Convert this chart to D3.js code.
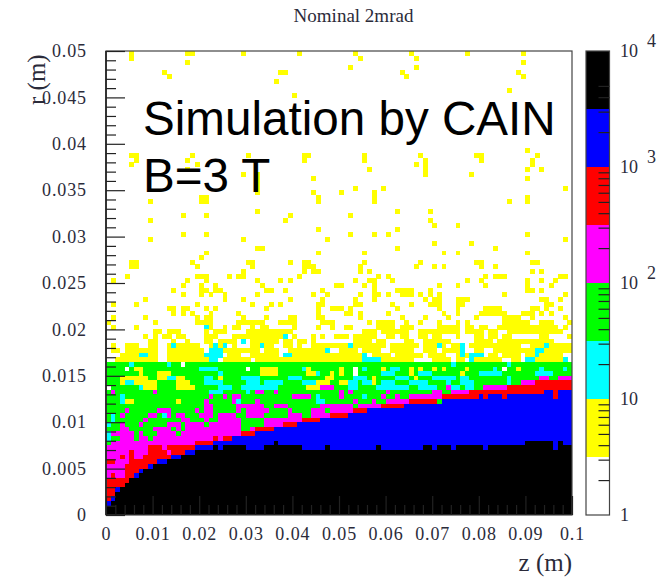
<!DOCTYPE html>
<html><head><meta charset="utf-8">
<script src="https://cdnjs.cloudflare.com/ajax/libs/d3/7.8.5/d3.min.js"></script>
<style>html,body{margin:0;padding:0;background:#fff}svg{display:block}
.ax text{font-family:"Liberation Serif",serif;font-size:18px;fill:#2b2b3a;letter-spacing:.9px}
.ax path{display:none}.ax line{stroke:#222;stroke-width:1.2px}
text{font-family:"Liberation Serif",serif;fill:#2b2b3a}</style></head><body>
<svg id="c" width="669" height="577"></svg>
<script>
const title = "Nominal 2mrad";
const annotations = ["Simulation by CAIN", "B=3 T"];
const zMajor = [0,0.01,0.02,0.03,0.04,0.05,0.06,0.07,0.08,0.09,0.1];
const zLabels = ["0","0.01","0.02","0.03","0.04","0.05","0.06","0.07","0.08","0.09","0.1"];
const rMajor = [0,0.005,0.01,0.015,0.02,0.025,0.03,0.035,0.04,0.045,0.05];
const rLabels = ["0","0.005","0.01","0.015","0.02","0.025","0.03","0.035","0.04","0.045","0.05"];
const contourLevels = [3.16,10,31.6,100,316,1000,3160,10000];
const contourColors = ["#ffffff","#ffff00","#00ffff","#00ff00","#ff00ff","#ff0000","#0000ff","#000000"];
const barTicks = [2,3,4,5,6,7,8,9,20,30,40,50,60,70,80,90,200,300,400,500,600,700,800,900,2000,3000,4000,5000];
const barLabels = [[1,"1",""],[10,"10",""],[100,"10","2"],[1000,"10","3"],[10000,"10","4"]];
// typical counts per colour band
const bandValue = {W:1.5,Y:5,C:18,G:56,M:178,R:562,B:1778,K:5623};

// column heights (number of r bins from the axis)
const blackHeight = [2,3,5,6,7,8,8,9,10,10,11,11,11,12,12,12,13,13,13,14,14,14,14,15,14,15,15,15,15,15,14,14,14,14,15,15,16,15,15,15,15,15,14,14,14,14,14,15,14,14,
14,14,14,14,14,14,14,14,15,14,14,14,14,14,14,14,14,14,15,15,14,15,15,15,14,15,15,15,15,15,15,14,15,15,15,15,15,15,15,15,16,16,16,16,16,16,14,16,15,15];
const blueHeight = [3,4,6,6,7,8,9,10,10,11,11,12,12,12,13,13,13,14,14,15,15,15,15,16,16,16,16,17,17,17,17,17,18,18,18,18,19,19,19,19,19,20,20,20,20,20,21,21,21,21,
21,21,22,22,22,22,23,23,23,23,23,23,23,23,24,24,24,24,24,24,24,24,25,25,25,25,25,25,25,25,26,25,26,26,26,25,26,26,26,26,26,26,26,26,27,27,25,27,27,27];

// sparse cells by row from the top of the plot: row -> columns
const yellowCells = {0:"5,17-18,29,41,53,65,77,89",1:"5,54,66",2:"17,89",3:"52,66",4:"12,37-38,63,88",5:"13,64,89",6:"36",8:"86",9:"40",
21:"90",22:"5-6,18,30,42-43,55,67,79-80,92",23:"6,17,42,55,68,80,91",24:"5,19,66,68,91",25:"17,56,68,90,93",26:"29,32,68,78",27:"32,44,90",28:"32",29:"32,53,59,98",30:"32,44,50,57",31:"20-21,45,57,90",
32:"9,20-21,45,57,86,90",34:"32,62,69",35:"16,21,39,52",36:"9,38,69",37:"70,75",38:"45,62",39:"16,21,52,57,60,90",40:"9,29,47,98",41:"70,78",42:"32-33,62,83",43:"21,45,55,72,75,90",44:"20",
45:"5-6,18,30-31,39,42-43,55,67,79-80,91-92",46:"5-6,19,31,42-44,54,66,70,72,80,83",47:"29,42,44-45,54,56,91,93",48:"4,19-21,26,28-29,41,58,60,81,83-85,97-98",
49:"1,17,21,32,37,39,53,56-57,61,77,80,90,93,96",50:"16,20,23,33,49,50,55,57,71,75,81,90,95",51:"14,20-21,23-24,34-35,38,46,57,62-65,69,90-91,93",
52:"16,20,22,25,32,44,47,54,57-58,60,63-65,67,69,71,85,98",53:"8,25,29,39,46,53,57,68,70-71,75-77,93-94,97",54:"1,6,19,31,35,37,45-46,53-54,61,65,69-71,75-76,94-95",
55:"13-14,16-17,21,23,34,45,48-49,50,52,62,71,75,81-84,91-92,94,97",56:"14,16,18,22,28,45,51-52,54,60,72,75,80-85,89-91,93,95",
57:"1,8,19,21-22,29,34,39-40,45-46,54,63,68,73,79,85-88,91,98",58:"0,10,19-22,28-33,37-40,46-48,56,58-61,64,67,71,75,77,85-90,93-95,99",
59:"1,6,22,25,27-28,31,33-34,40,45,48,51-52,58-61,63-65,71-75,77-78,80-81,84-96,98",60:"10-11,13-15,21,23-25,30-39,55-57,59-64,67-75,77-80,82-83,86-97",
61:"8,10,12-13,15-16,21-23,27-37,40,44,46,49,50-51,53-57,60-61,63-64,67-68,70-71,75,79-80,82-83,85-86,93-94,99",
62:"9-10,14,17,21-22,24-27,31-36,38-39,41-42,44,53-56,58-59,64-65,68-73,79-82,84-95",
63:"1,4-6,9-10,13,15-19,22,24-25,27,31-35,38-39,41,44-49,50-59,61-66,68-72,74-75,78-88,91-99",
64:"1-2,4-10,13-20,24-32,34-36,39-47,50-53,55-58,61-65,68-70,72-75,79-80,83-92,94-99",
65:"3-10,13-22,26-28,31-36,40-50,51-54,57-60,62-67,69-72,75,77-79,82-83,85-88,90-91,93-97",
66:"2-10,13-23,25-30,32-49,50-54,59-65,70-73,75-76,79-84,87-88,90-98",
68:"6-7,33-36,42-43,50,59,65,67,70,72,77,88",69:"7,11-13,33-36,43-44,48,50,65,76",70:"3-8,11-12,15-16,24,47-48,57,66",71:"3,6-10,15-17,45-47,50-51,57",72:"0,8-10,15-18,43-45",75:"4-5,15"};
const cyanCells = {59:"21",61:"38",62:"29",63:"14,23,25,33,52,71,76,94",64:"22-24,47,76,92-93",65:"7-8,21-24,38-39,55,76,78-80,92",66:"22-23,55-58,78,90-91,98",
67:"5,13,74,86",68:"20-23,42,55,61-62,83,93,98",69:"24,45,59-61,67-69,80-84,92-95",70:"13-14,21-22,29-32,39-41,53-55,62-64,70-74,76-77,86",71:"4-5,21-24,30-32,34-37,42-44,52-53,55-56,59-61,65-68,73,76-78,86",
72:"7,24-26,29-33,34-36,52-53,58-64,67-70,74-75,77-78",73:"22-24,30",74:"3,45,55",75:"3,28,45-46",78:"1,12",79:"1",80:"0",82:"0",83:"0"};
const magentaCells = {70:"93-94,97-99",71:"89-91",72:"46-48,73,81-85",73:"1,10,32-33,36,50,52,60,70-71,74-77",74:"22,25,27-28,40-43,50,59,62,65-71",75:"21,27,32,53,57,60-64",
76:"21-22,28-33,36-38,46-52,54-58",77:"4,11-13,19,21-22,28,30-34,39,44-46,48-52",78:"3,9-10,13,15-16,20-22,24-27,30-33,39-41,44-47",79:"8,16-17,21,24-28,34-41",
80:"3,7,13-15,17-20,22-28,34-37",81:"3-4,10-13,15,17-28,31",82:"1-5,7,11-14,16-28",83:"3-5,7-8,10-22,24",84:"1-18",85:"0-8,12",86:"0-4,6-8,13",87:"0-2,4,6-7",88:"2-4",89:"0-3",90:"0-3",91:"0,2-3"};
const redCells = {71:"92-99",72:"86-99",73:"78-93,96",74:"72-79,81,85,96",75:"65-70",76:"59-63",77:"53-57",78:"48-51",79:"42-47",80:"38-41",81:"32-35",82:"29-31",83:"23,25-26",84:"19-22",
85:"9-11,13-18",86:"5,9-12,14-16",87:"3,5,8-13",88:"0-1,5-10",89:"4-8",90:"4-6",91:"1,4-5",92:"0-4",93:"0-3",94:"0-1",95:"0-1",96:"0"};
const whiteCells = {67:"16",68:"4,30,53,85",69:"53",72:"0",78:""};

const W=669,H=577;
const x=d3.scaleLinear().domain([0,0.1]).range([106,572]);
const y=d3.scaleLinear().domain([0,0.05]).range([515,51]);
const svg=d3.select("#c");
const color=d3.scaleThreshold().domain(contourLevels).range(contourColors);

function parse(s){const o=[];if(!s)return o;s.split(",").forEach(p=>{const a=p.split("-").map(Number);for(let i=a[0];i<=(a.length>1?a[1]:a[0]);i++)o.push(i)});return o}
const grid=d3.range(100).map(k=>d3.range(100).map(()=>k>=67?bandValue.G:bandValue.W));
function put(src,v){Object.keys(src).forEach(k=>parse(src[k]).forEach(c=>{if(c<100)grid[+k][c]=v}))}
put(yellowCells,bandValue.Y);put(cyanCells,bandValue.C);put(magentaCells,bandValue.M);put(redCells,bandValue.R);put(whiteCells,bandValue.W);
d3.range(100).forEach(c=>{
  for(let k=100-blueHeight[c];k<100;k++)grid[k][c]=bandValue.B;
  for(let k=100-blackHeight[c];k<100;k++)grid[k][c]=bandValue.K;
});
// keep red notches above the blue columns
parse(redCells[74]).forEach(c=>{if(c===81||c===85||c===96)grid[74][c]=bandValue.R});
const cells=[];grid.forEach((row,k)=>row.forEach((v,c)=>{if(v>=3.16)cells.push({c,k,v})}));
svg.append("g").attr("shape-rendering","crispEdges").selectAll("rect").data(cells).join("rect")
 .attr("x",d=>x(d.c*0.001)).attr("width",x(0.001)-x(0)+0.3)
 .attr("y",d=>y((100-d.k)*0.0005)).attr("height",y(0)-y(0.0005)+0.3)
 .attr("fill",d=>color(d.v));

// frame
svg.append("rect").attr("x",106).attr("y",51).attr("width",466).attr("height",464).attr("fill","none").attr("stroke","#444").attr("stroke-width",1.2);
svg.append("line").attr("x1",106).attr("x2",106).attr("y1",51).attr("y2",515).attr("stroke","#333").attr("stroke-width",2);

// axes
const rMinor=d3.range(0,51).map(i=>i*0.001).filter(v=>Math.round(v*1000)%5!==0);
const zMinor=d3.range(0,51).map(i=>i*0.002).filter(v=>Math.round(v*1000)%10!==0);
svg.append("g").attr("class","ax").attr("transform","translate(106,0)")
 .call(d3.axisLeft(y).tickValues(rMinor).tickSizeInner(-10).tickSizeOuter(0).tickFormat(""));
svg.append("g").attr("class","ax").attr("transform","translate(106,0)")
 .call(d3.axisLeft(y).tickValues(rMajor).tickSizeInner(-19).tickSizeOuter(0).tickPadding(19).tickFormat((d,i)=>rLabels[i]));
svg.append("g").attr("class","ax").attr("transform","translate(0,515)")
 .call(d3.axisBottom(x).tickValues(zMinor).tickSizeInner(-10).tickSizeOuter(0).tickFormat(""));
svg.append("g").attr("class","ax").attr("transform","translate(0,515)")
 .call(d3.axisBottom(x).tickValues(zMajor).tickSizeInner(-19).tickSizeOuter(0).tickPadding(12).tickFormat((d,i)=>zLabels[i]));

svg.append("text").attr("x",353.5).attr("y",22).attr("text-anchor","middle").attr("font-size",19).text(title);
svg.append("text").attr("x",572).attr("y",571).attr("text-anchor","end").attr("font-size",25).text("z (m)");
svg.append("text").attr("transform","translate(45,105) rotate(-90)").attr("font-size",25).text("r (m)");

// annotations
svg.append("text").attr("x",143).attr("y",135).style("font-family","'Liberation Sans',sans-serif").style("fill","#000").attr("font-size",47.6).text(annotations[0]);
svg.append("text").attr("x",143).attr("y",192).style("font-family","'Liberation Sans',sans-serif").style("fill","#000").attr("font-size",47.6).text(annotations[1]);

// colour bar
const bar=d3.scaleLog().domain([1,10000]).range([515,51]);
const bands=[1].concat(contourLevels.slice(0,-1)).map((lo,i)=>({lo,hi:contourLevels[i]}));
svg.append("g").attr("shape-rendering","crispEdges").selectAll("rect").data(bands).join("rect")
 .attr("x",586).attr("width",23.5).attr("y",d=>bar(d.hi)).attr("height",d=>bar(d.lo)-bar(d.hi)).attr("fill",d=>color(d.lo));
svg.append("rect").attr("x",586).attr("y",51).attr("width",23.5).attr("height",464).attr("fill","none").attr("stroke","#444").attr("stroke-width",1.2);
svg.append("g").attr("class","ax").attr("transform","translate(609.5,0)")
 .call(d3.axisLeft(bar).tickValues(barTicks).tickSizeInner(11).tickSizeOuter(0).tickFormat(""));
const lab=svg.append("g").selectAll("g").data(barLabels).join("g").attr("transform",d=>`translate(620,${bar(d[0])+6})`);
lab.append("text").attr("font-size",18).text(d=>d[1]);
lab.append("text").attr("x",27).attr("y",-10).attr("font-size",18).text(d=>d[2]);
</script></body></html>
